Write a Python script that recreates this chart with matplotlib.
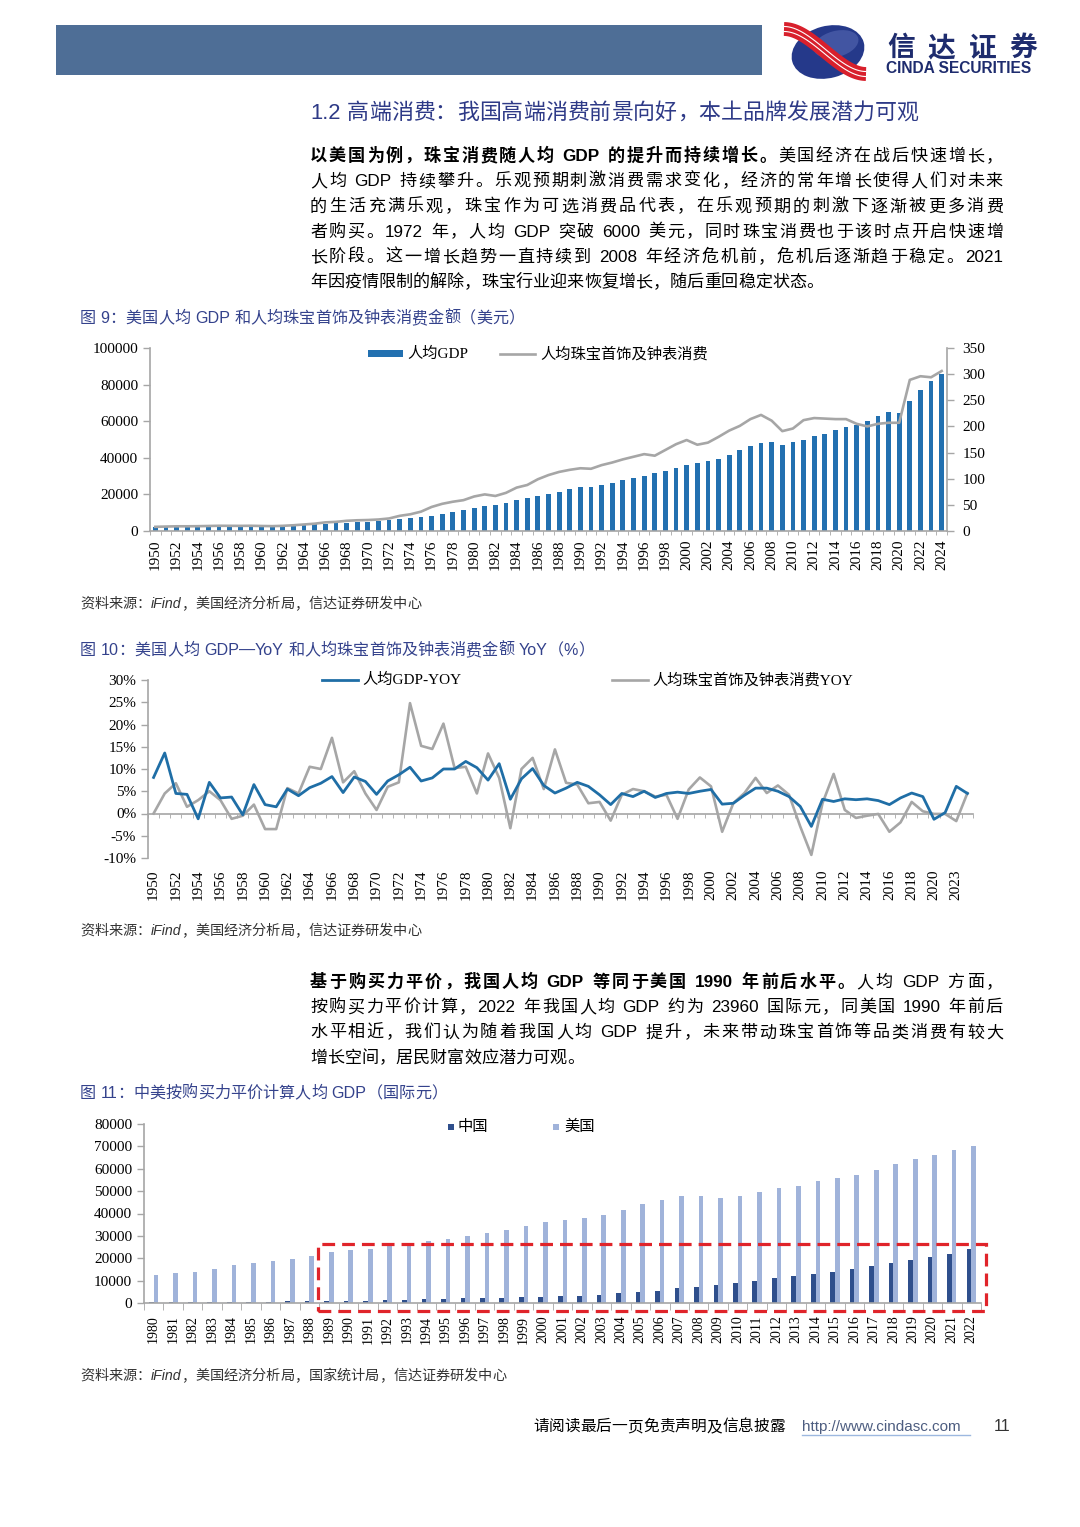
import matplotlib
matplotlib.use('Agg')
import numpy as np
import matplotlib.pyplot as plt
from matplotlib.patches import Rectangle, Ellipse

W, H = 1080, 1527
SANS = ['Liberation Sans', 'Noto Sans CJK SC']
SERIF = ['Liberation Serif', 'Noto Sans CJK SC']
plt.rcParams['font.family'] = SERIF

# ---- 图9 data: US GDP per capita (USD) and jewelry & watch spending per capita (USD)
years1 = list(range(1950, 2025))
gdp_pc = [1920, 2150, 2250, 2350, 2340, 2500, 2600, 2700, 2700, 2880,
          2940, 3000, 3160, 3280, 3460, 3700, 4000, 4160, 4500, 4800,
          5000, 5400, 5900, 6500, 7000, 7600, 8400, 9200, 10300, 11400,
          12500, 13900, 14400, 15500, 17100, 18200, 19100, 20100, 21500, 22900,
          23900, 24300, 25400, 26400, 27700, 28700, 30000, 31500, 32800, 34500,
          36300, 37100, 38000, 39500, 41700, 44100, 46300, 48000, 48400, 47100,
          48500, 50000, 51700, 53100, 55000, 56800, 57900, 59900, 62800, 65100,
          64300, 71000, 77200, 82000, 85800]
jewelry_pc = [8, 8.5, 9, 9, 9.2, 9.6, 10, 9.9, 9.8, 10,
              9.6, 9.3, 9.9, 11, 12.5, 14, 16.5, 17.5, 19.5, 20.5,
              21, 22, 24, 29, 32, 37, 46, 52, 56, 59,
              66, 70, 67, 73, 83, 88, 99, 107, 113, 117,
              120, 119, 126, 131, 137, 142, 147, 144, 155, 166,
              174, 165, 169, 180, 192, 201, 214, 222, 211, 191,
              196, 212, 216, 215, 214, 214, 205, 200, 205, 207,
              207, 289, 296, 294, 306]

# ---- 图10 data: YoY (%)
years2 = [str(y) for y in range(1950, 2022)] + ['2023', '2024']
gdp_yoy = [8.1, 13.6, 4.5, 4.3, -1.2, 7.0, 3.5, 3.7, -0.3, 6.5,
           2.0, 1.5, 5.5, 4.0, 5.8, 6.8, 8.3, 4.7, 8.2, 7.2,
           4.3, 7.3, 8.7, 10.4, 7.3, 8.0, 10.0, 10.0, 11.7, 10.3,
           7.5, 11.2, 3.2, 7.8, 10.1, 6.3, 4.6, 5.7, 7.0, 6.1,
           4.2, 2.0, 4.5, 3.8, 5.0, 3.6, 4.5, 4.8, 4.5, 5.0,
           5.4, 2.1, 2.3, 4.1, 5.7, 5.7, 5.0, 3.8, 1.6, -2.9,
           3.2, 2.7, 3.3, 3.1, 3.3, 2.9, 2.0, 3.5, 4.6, 3.8,
           -1.3, 0.2, 6.1, 4.5]
jewelry_yoy = [0.0, 4.5, 6.8, 1.5, 3.0, 5.0, 3.0, -1.2, -0.5, 2.0,
               -3.5, -3.5, 5.7, 4.5, 10.5, 10.0, 17.0, 7.0, 9.5, 4.5,
               0.8, 6.0, 7.0, 24.8, 15.2, 14.5, 20.2, 10.2, 10.5, 4.5,
               13.5, 8.0, -3.3, 10.0, 12.5, 5.5, 14.4, 6.9, 6.5, 2.3,
               2.6, -1.6, 4.2, 5.5, 5.0, 3.8, 4.2, -1.2, 5.4, 8.1,
               6.1, -4.1, 2.3, 4.6, 8.0, 4.6, 6.3, 4.2, -2.9, -9.3,
               2.3, 8.9, 0.8, -1.0, -0.5, -0.1, -4.1, -2.0, 2.6, 0.5,
               -0.1, -0.1, -1.7, 4.6]

# ---- 图11 data: PPP GDP per capita (international $)
years3 = list(range(1980, 2023))
china_ppp = [300, 330, 380, 430, 520, 600, 660, 740, 840, 900,
             980, 1100, 1270, 1450, 1650, 1850, 2050, 2250, 2400, 2600,
             2800, 3050, 3350, 3750, 4250, 4850, 5550, 6500, 7250, 7900,
             8900, 9950, 10950, 11900, 12950, 13950, 15000, 16350, 17800, 19050,
             20450, 22100, 23960]
us_ppp = [12300, 13600, 13900, 15100, 16900, 18100, 18800, 19600, 21100, 22900,
          23600, 24100, 25400, 26200, 27700, 28400, 29900, 31400, 32600, 34400,
          36300, 37100, 37800, 39300, 41700, 44100, 46000, 47700, 48000, 46800,
          48000, 49500, 51300, 52500, 54400, 55900, 57200, 59300, 61900, 64300,
          66100, 68200, 70000]

GRAY_AX = '#A6A6A6'
NAVY = '#34428C'

fig = plt.figure(figsize=(W / 100, H / 100), dpi=100)
ov = fig.add_axes([0, 0, 1, 1])
ov.set_xlim(0, W)
ov.set_ylim(H, 0)
ov.axis('off')
ov.set_zorder(5)
rend = fig.canvas.get_renderer()


def put_line(x0, y, parts, size, width=None, color='black', family=SANS, style='normal'):
    toks = []
    for txt, bold in parts:
        buf = ''
        for ch in txt:
            if ch.isascii() and ch != ' ':
                buf += ch
                continue
            if buf:
                toks.append((buf, bold))
                buf = ''
            toks.append((None if ch == ' ' else ch, bold))
        if buf:
            toks.append((buf, bold))
    items = []
    for t, b in toks:
        if t is None:
            items.append((None, size * 0.28 * 100 / 72))
        else:
            a = ov.text(0, y, t, fontsize=size, family=family, color=color, style=style,
                        weight='bold' if b else 'normal', va='baseline', ha='left')
            items.append((a, a.get_window_extent(rend).width))
    total = sum(w for _, w in items)
    extra = 0
    if width is not None and len(items) > 1:
        extra = (width - total) / (len(items) - 1)
    x = x0
    for a, w in items:
        if a is not None:
            a.set_x(x)
        x += w + extra


# ---- header
ov.add_patch(Rectangle((56, 25), 706, 50, color='#4E6E96', lw=0))
ov.add_patch(Ellipse((828, 52), 74, 52, angle=-15, color='#25398A', lw=0))
ov.add_patch(Ellipse((836, 44), 46, 26, angle=-15, color='#6678C0', alpha=0.45, lw=0))
tt = np.linspace(0, 1, 60)
sx = 784 + 82 * tt
sy = 29 + 45 * (3 * tt ** 2 - 2 * tt ** 3)
ov.plot(sx, sy, color='#D8202C', lw=10, solid_capstyle='butt')
ov.plot(sx, sy - 2.5, color='white', lw=0.8)
ov.plot(sx, sy + 2.5, color='white', lw=0.8)
put_line(887, 56, [('信达证券', True)], 20, width=150, color='#1E2C6E')
ov.text(886, 73, 'CINDA SECURITIES', fontsize=11.2, weight='bold', color='#1E2C6E',
        family=SANS, va='baseline', ha='left')

put_line(310, 119, [('1.2 高端消费：我国高端消费前景向好，本土品牌发展潜力可观', False)],
         15.8, color='#2E3A87')

# ---- paragraph 1
para1 = [
    [('以美国为例，珠宝消费随人均 GDP 的提升而持续增长。', True), ('美国经济在战后快速增长，', False)],
    [('人均 GDP 持续攀升。乐观预期刺激消费需求变化，经济的常年增长使得人们对未来', False)],
    [('的生活充满乐观，珠宝作为可选消费品代表，在乐观预期的刺激下逐渐被更多消费', False)],
    [('者购买。1972 年，人均 GDP 突破 6000 美元，同时珠宝消费也于该时点开启快速增', False)],
    [('长阶段。这一增长趋势一直持续到 2008 年经济危机前，危机后逐渐趋于稳定。2021', False)],
    [('年因疫情限制的解除，珠宝行业迎来恢复增长，随后重回稳定状态。', False)],
]
for i, parts in enumerate(para1):
    put_line(310, 161 + i * 25.2, parts, 12.3, width=None if i == len(para1) - 1 else 693)

para2 = [
    [('基于购买力平价，我国人均 GDP 等同于美国 1990 年前后水平。', True), ('人均 GDP 方面，', False)],
    [('按购买力平价计算，2022 年我国人均 GDP 约为 23960 国际元，同美国 1990 年前后', False)],
    [('水平相近，我们认为随着我国人均 GDP 提升，未来带动珠宝首饰等品类消费有较大', False)],
    [('增长空间，居民财富效应潜力可观。', False)],
]
for i, parts in enumerate(para2):
    put_line(310, 987 + i * 25.2, parts, 12.3, width=None if i == len(para2) - 1 else 693)

# ---- captions and sources
put_line(80, 323, [('图 9：美国人均 GDP 和人均珠宝首饰及钟表消费金额（美元）', False)], 11.6, color=NAVY)
put_line(80, 655, [('图 10：美国人均 GDP—YoY 和人均珠宝首饰及钟表消费金额 YoY（%）', False)], 11.6, color=NAVY)
put_line(80, 1098, [('图 11：中美按购买力平价计算人均 GDP（国际元）', False)], 11.6, color=NAVY)
put_line(80, 608, [('资料来源：iFind，美国经济分析局，信达证券研发中心', False)], 10.2,
         color='#333333', style='italic')
put_line(80, 935, [('资料来源：iFind，美国经济分析局，信达证券研发中心', False)], 10.2,
         color='#333333', style='italic')
put_line(80, 1380, [('资料来源：iFind，美国经济分析局，国家统计局，信达证券研发中心', False)], 10.2,
         color='#333333', style='italic')

# ---- footer
put_line(533, 1431, [('请阅读最后一页免责声明及信息披露', False)], 11.3)
ov.text(802, 1431, 'http://www.cindasc.com', fontsize=11, family=SANS, color='#4D5D80',
        va='baseline', ha='left')
ov.plot([802, 970], [1435, 1435], color='#9DB8E0', lw=1)
ov.text(994, 1431, '11', fontsize=11.5, family=SANS, color='#333333', va='baseline', ha='left')


def style_axes(ax, sides):
    for s in ['top', 'bottom', 'left', 'right']:
        ax.spines[s].set_visible(s in sides)
        ax.spines[s].set_color(GRAY_AX)
        ax.spines[s].set_linewidth(1.2)
    ax.tick_params(colors=GRAY_AX, labelcolor='black', width=1)
    ax.set_facecolor('none')


# ---- chart 1
ax1 = fig.add_axes([150 / W, 1 - 531 / H, 797 / W, 183 / H])
x1 = np.arange(len(years1))
ax1.bar(x1, gdp_pc, width=0.45, color='#2270B0', zorder=2, label='人均GDP')
ax1.set_xlim(-0.5, len(years1) - 0.5)
ax1.set_ylim(0, 100000)
ax1.set_yticks(range(0, 100001, 20000))
ax1.set_xticks(x1[::2])
ax1.set_xticklabels([str(y) for y in years1[::2]], rotation=90)
ax1.set_xticks(np.arange(-0.5, len(years1), 1), minor=True)
style_axes(ax1, ['bottom', 'left'])
ax1.tick_params(axis='x', which='major', length=0, pad=6, labelsize=11)
ax1.tick_params(axis='x', which='minor', length=3, colors=GRAY_AX)
ax1.tick_params(axis='y', length=5, labelsize=11)
ax1b = ax1.twinx()
ax1b.plot(x1, jewelry_pc, color='#A6A6A6', lw=1.9, zorder=3)
ax1b.set_ylim(0, 350)
ax1b.set_yticks(range(0, 351, 50))
style_axes(ax1b, ['right'])
ax1b.tick_params(axis='y', length=5, labelsize=11, pad=6)

ov.add_patch(Rectangle((368, 350), 35, 7, color='#2270B0', lw=0))
ov.text(407, 354, '人均GDP', fontsize=11, va='center', ha='left')
ov.plot([500, 535], [354, 354], color='#A6A6A6', lw=1.9)
ov.text(540, 354, '人均珠宝首饰及钟表消费', fontsize=11, va='center', ha='left')

# ---- chart 2
ax2 = fig.add_axes([148 / W, 1 - 858 / H, 825 / W, 178 / H])
style_axes(ax2, ['bottom', 'left'])
ax2.spines['bottom'].set_position(('data', 0))
x2 = np.arange(len(years2))
ax2.plot(x2, jewelry_yoy, color='#A6A6A6', lw=1.9, zorder=2)
ax2.plot(x2, gdp_yoy, color='#1F6EA6', lw=2.0, zorder=3)
ax2.set_xlim(-0.4, len(years2) - 0.5)
ax2.set_ylim(-10, 30)
ax2.set_yticks(range(-10, 31, 5))
ax2.set_yticklabels([f'{v}%' for v in range(-10, 31, 5)])
ax2.set_xticks(x2[::2])
ax2.set_xticklabels(years2[::2], rotation=90)
ax2.set_xticks(np.arange(-0.5, len(years2), 1), minor=True)
ax2.tick_params(colors=GRAY_AX, labelcolor='black', width=1)
ax2.tick_params(axis='x', which='major', length=0, pad=40, labelsize=11)
ax2.tick_params(axis='x', which='minor', length=3, colors=GRAY_AX)
ax2.tick_params(axis='y', length=5, labelsize=11)

ov.plot([322, 358], [680, 680], color='#1F6EA6', lw=2.0)
ov.text(362, 680, '人均GDP-YOY', fontsize=11, va='center', ha='left')
ov.plot([612, 648], [680, 680], color='#A6A6A6', lw=1.9)
ov.text(652, 680, '人均珠宝首饰及钟表消费YOY', fontsize=11, va='center', ha='left')

# ---- chart 3
ax3 = fig.add_axes([144 / W, 1 - 1303 / H, 837 / W, 179 / H])
x3 = np.arange(len(years3))
ax3.bar(x3 - 0.12, china_ppp, width=0.24, color='#2F4F8C', zorder=2)
ax3.bar(x3 + 0.12, us_ppp, width=0.24, color='#A0B3DA', zorder=2)
ax3.set_xlim(-0.5, len(years3) - 0.5)
ax3.set_ylim(0, 80000)
ax3.set_yticks(range(0, 80001, 10000))
ax3.set_xticks(x3)
ax3.set_xticklabels([str(y) for y in years3], rotation=90)
ax3.set_xticks(np.arange(-0.5, len(years3), 1), minor=True)
style_axes(ax3, ['bottom', 'left'])
ax3.tick_params(axis='x', which='major', length=0, pad=9, labelsize=10)
ax3.tick_params(axis='x', which='minor', length=5, colors=GRAY_AX)
ax3.tick_params(axis='y', length=5, labelsize=11)
ax3.add_patch(Rectangle((8.45, -3600), 42.75 - 8.45, 26500 + 3600, fill=False,
                        edgecolor='#E0242A', lw=2.3, linestyle=(0, (4, 2.2)),
                        clip_on=False, zorder=4))

ov.add_patch(Rectangle((448, 1124), 6, 6, color='#2F4F8C', lw=0))
ov.text(458, 1127, '中国', fontsize=11, va='center', ha='left')
ov.add_patch(Rectangle((553, 1124), 6, 6, color='#A0B3DA', lw=0))
ov.text(564, 1127, '美国', fontsize=11, va='center', ha='left')

fig.savefig('out.png', dpi=100)
